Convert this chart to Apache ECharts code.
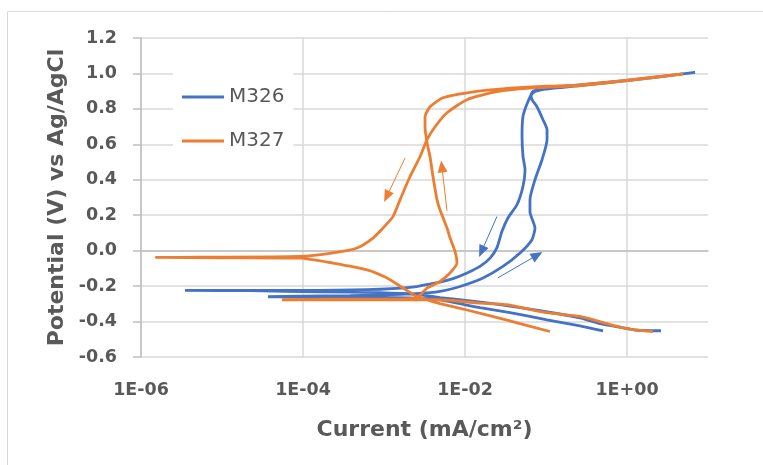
<!DOCTYPE html>
<html><head><meta charset="utf-8">
<script src="https://cdn.jsdelivr.net/npm/echarts@6/dist/echarts.min.js"></script>
<style>html,body{margin:0;padding:0;background:#fff;} #chart{width:763px;height:465px;}</style>
</head><body><div id="chart"></div>
<script>
const seriesNames = ['M326', 'M327'];
const seriesColors = ['#4472C4', '#ED7D31'];

// M326: current (mA/cm2) and potential (V vs Ag/AgCl), in scan order
const m326Current = [0.506,0.263,0.103,0.036,0.0153,0.00867,0.00491,0.00209,0.000671,0.000162,0.000037,0.0000919,0.00038,0.00158,0.0037,0.00491,0.00867,0.0167,0.0294,0.0478,0.0671,0.0731,0.0634,0.0634,0.0731,0.0893,0.103,0.103,0.0918,0.0774,0.0671,0.0653,0.0692,0.103,0.263,1.0,4.91,6.92,1.0,0.263,0.0973,0.0692,0.060,0.052,0.0506,0.052,0.0551,0.052,0.0438,0.034,0.0286,0.0248,0.0204,0.0153,0.0106,0.00711,0.00491,0.00209,0.000617,0.0000919,0.00000349,0.0000222,0.000162,0.000893,0.00278,0.00491,0.0115,0.027,0.0843,0.263,0.465,0.893,1.33,2.63];
const m326Potential = [-0.452,-0.424,-0.390,-0.350,-0.322,-0.299,-0.277,-0.266,-0.263,-0.260,-0.260,-0.257,-0.254,-0.246,-0.237,-0.230,-0.202,-0.154,-0.089,-0.013,0.062,0.128,0.220,0.288,0.400,0.513,0.626,0.683,0.739,0.812,0.852,0.880,0.899,0.918,0.936,0.961,0.997,1.006,0.959,0.931,0.911,0.891,0.842,0.758,0.645,0.532,0.457,0.363,0.259,0.186,0.109,0.017,-0.042,-0.089,-0.126,-0.158,-0.177,-0.207,-0.220,-0.224,-0.224,-0.226,-0.232,-0.237,-0.249,-0.265,-0.283,-0.305,-0.339,-0.379,-0.412,-0.435,-0.449,-0.452];

// M327
const m327Current = [2.09,1.19,0.671,0.263,0.103,0.033,0.0153,0.00491,0.00209,0.00038,0.0000551,0.000215,0.000893,0.00209,0.00263,0.0034,0.00491,0.00653,0.00796,0.00753,0.00653,0.006,0.00491,0.00451,0.00403,0.0037,0.0034,0.00321,0.00321,0.0037,0.00535,0.0106,0.0392,0.103,0.263,1.0,4.91,1.0,0.263,0.0634,0.0248,0.0106,0.006,0.00427,0.0034,0.00278,0.00209,0.00158,0.00129,0.000973,0.000731,0.000464,0.000234,0.0000919,0.00000535,0.00000153,0.00000944,0.0000919,0.000234,0.000617,0.00109,0.00172,0.00255,0.00403,0.00491,0.0115,0.033,0.112];
const m327Potential = [-0.456,-0.446,-0.421,-0.371,-0.350,-0.305,-0.296,-0.277,-0.277,-0.277,-0.277,-0.274,-0.274,-0.271,-0.260,-0.211,-0.174,-0.126,-0.070,-0.004,0.073,0.128,0.231,0.288,0.417,0.530,0.609,0.699,0.756,0.812,0.863,0.891,0.918,0.928,0.936,0.962,0.997,0.959,0.931,0.917,0.897,0.852,0.778,0.699,0.626,0.530,0.417,0.288,0.192,0.128,0.071,0.015,-0.013,-0.033,-0.037,-0.038,-0.040,-0.042,-0.070,-0.108,-0.154,-0.211,-0.258,-0.288,-0.299,-0.339,-0.392,-0.456];

// scan-direction arrows: [start, end] in data units
const m326Arrows = [[[0.0248, 0.193], [0.0160, -0.005]], [[0.0255, -0.153], [0.0780, -0.025]]];
const m327Arrows = [[[0.00182, 0.523], [0.00108, 0.305]], [[0.0060, 0.225], [0.00518, 0.475]]];

const xTickValues = [1e-6, 1e-4, 1e-2, 1];
const xTickLabels = ['1E-06', '1E-04', '1E-02', '1E+00'];
const yTickValues = [-0.6, -0.4, -0.2, 0.0, 0.2, 0.4, 0.6, 0.8, 1.0, 1.2];
const yTickLabels = ['-0.6', '-0.4', '-0.2', '0.0', '0.2', '0.4', '0.6', '0.8', '1.0', '1.2'];

const xTitle = 'Current (mA/cm²)';
const yTitle = 'Potential (V) vs Ag/AgCl';

function zip(a, b) { return a.map((v, i) => [v, b[i]]); }
function arrowData(arr) { return arr.map(p => [{ coord: p[0] }, { coord: p[1] }]); }

const FONT = 'DejaVu Sans';
const chart = echarts.init(document.getElementById('chart'), null, { renderer: 'canvas' });
chart.setOption({
  animation: false,
  backgroundColor: '#ffffff',
  graphic: [{
    type: 'rect', silent: true, z: -10,
    shape: { x: 7.5, y: 11.5, width: 800, height: 500 },
    style: { fill: 'none', stroke: '#d9d9d9', lineWidth: 1 }
  }],
  grid: { left: 141, top: 38, width: 567, height: 319, containLabel: false },
  legend: {
    data: seriesNames, orient: 'vertical', left: 173, top: 67,
    padding: [20, 9, 20, 9], itemGap: 24, itemWidth: 42, itemHeight: 20,
    icon: 'path://M0,0 L42,0 L42,3 L0,3 Z', itemSymbolKeepAspect: true,
    backgroundColor: '#ffffff',
    textStyle: { fontFamily: FONT, fontSize: 20, color: '#595959' }
  },
  xAxis: {
    type: 'log', logBase: 10, min: 1e-6, max: 10,
    name: xTitle, nameLocation: 'middle', nameGap: 62,
    nameTextStyle: { fontFamily: FONT, fontSize: 22, fontWeight: 'bold', color: '#595959' },
    axisLine: { show: true, lineStyle: { color: '#bfbfbf', width: 1.5 } },
    axisTick: { show: false },
    axisLabel: {
      margin: 24, fontFamily: FONT, fontSize: 17.5, fontWeight: 'bold', color: '#595959',
      formatter: function (v) {
        for (let i = 0; i < xTickValues.length; i++) {
          if (Math.abs(Math.log10(v) - Math.log10(xTickValues[i])) < 1e-6) return xTickLabels[i];
        }
        return '';
      }
    },
    splitLine: { show: true, lineStyle: { color: ['#d9d9d9', 'rgba(0,0,0,0)'], width: 1.5 } },
    minorTick: { show: false }
  },
  yAxis: {
    type: 'value', min: -0.6, max: 1.2, interval: 0.2,
    name: yTitle, nameLocation: 'middle', nameGap: 72, nameRotate: 90,
    nameTextStyle: { fontFamily: FONT, fontSize: 22, fontWeight: 'bold', color: '#595959' },
    axisLine: { show: true, lineStyle: { color: '#bfbfbf', width: 1.5 } },
    axisTick: { show: true, length: 8, lineStyle: { color: '#bfbfbf', width: 1.5 } },
    axisLabel: {
      margin: 24, fontFamily: FONT, fontSize: 17.5, fontWeight: 'bold', color: '#595959',
      formatter: function (v) {
        for (let i = 0; i < yTickValues.length; i++) {
          if (Math.abs(v - yTickValues[i]) < 1e-6) return yTickLabels[i];
        }
        return v.toFixed(1);
      }
    },
    splitLine: { show: true, lineStyle: { color: '#d9d9d9', width: 1.5 } }
  },
  series: [
    {
      name: seriesNames[0], type: 'line', data: zip(m326Current, m326Potential),
      symbol: 'none', showSymbol: false, smooth: 0.2,
      lineStyle: { color: seriesColors[0], width: 2.8 }, itemStyle: { color: seriesColors[0] },
      markLine: {
        silent: true, symbol: ['none', 'triangle'], symbolSize: [10, 12], animation: false,
        label: { show: false }, lineStyle: { color: seriesColors[0], width: 1, type: 'solid' },
        emphasis: { disabled: true }, data: arrowData(m326Arrows)
      }
    },
    {
      name: seriesNames[1], type: 'line', data: zip(m327Current, m327Potential),
      symbol: 'none', showSymbol: false, smooth: 0.2,
      lineStyle: { color: seriesColors[1], width: 2.8 }, itemStyle: { color: seriesColors[1] },
      markLine: {
        silent: true, symbol: ['none', 'triangle'], symbolSize: [10, 12], animation: false,
        label: { show: false }, lineStyle: { color: seriesColors[1], width: 1, type: 'solid' },
        emphasis: { disabled: true }, data: arrowData(m327Arrows)
      }
    }
  ]
});
</script>
</body></html>
